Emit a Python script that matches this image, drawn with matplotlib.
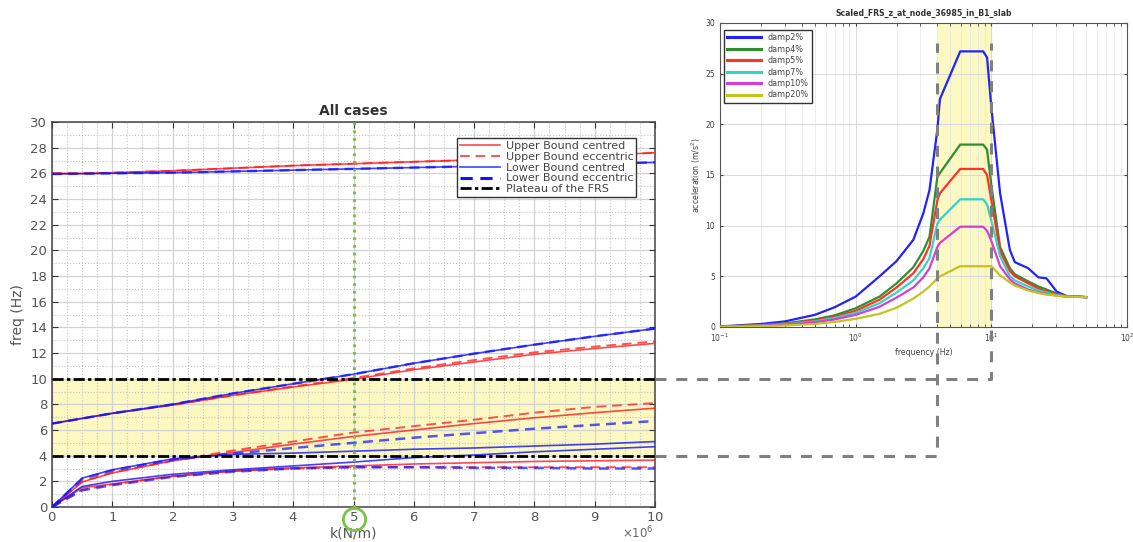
"""Stiffness sweep vs floor response spectrum plateau, two panels joined by guide lines."""
import numpy as np
import matplotlib; matplotlib.use("Agg")
import matplotlib.pyplot as plt
from matplotlib.lines import Line2D
from matplotlib.ticker import MultipleLocator, ScalarFormatter
from matplotlib.transforms import offset_copy

RED = "#ff1a1a"; BLUE = "#1212ff"; GREEN = "#7cc242"; GREY = "#808080"; YEL = "#fbf8c2"
plt.rcParams.update({"font.family": "DejaVu Sans", "figure.facecolor": "white"})

# ---- left panel: natural frequency vs support stiffness (k in N/m) ----
k = np.array([0, 0.5, 1, 2, 3, 4, 5, 6, 7, 8, 9, 10]) * 1e6
ub_c_hi = [26.0, 26.0, 26.05, 26.2, 26.4, 26.6, 26.75, 26.9, 27.05, 27.25, 27.4, 27.6]
lb_c_hi = [25.95, 25.97, 26.0, 26.05, 26.15, 26.25, 26.35, 26.45, 26.55, 26.65, 26.75, 26.85]
lb_mid = [6.5, 6.9, 7.3, 8.0, 8.85, 9.6, 10.35, 11.2, 11.95, 12.65, 13.3, 13.9]
ub_c_mid = [6.5, 6.9, 7.3, 7.95, 8.7, 9.35, 9.95, 10.7, 11.3, 11.9, 12.35, 12.75]
ub_e_mid = [6.5, 6.9, 7.3, 7.95, 8.7, 9.4, 10.05, 10.8, 11.45, 12.05, 12.5, 12.9]
ub_e_2 = [0, 2.0, 2.7, 3.6, 4.4, 5.1, 5.8, 6.3, 6.8, 7.35, 7.8, 8.1]
ub_c_2 = [0, 1.95, 2.65, 3.6, 4.25, 4.9, 5.5, 6.0, 6.5, 6.95, 7.35, 7.7]
lb_e_2 = [0, 2.2, 2.85, 3.7, 4.15, 4.6, 5.0, 5.4, 5.75, 6.1, 6.4, 6.7]
lb_c_2 = [0, 2.25, 2.9, 3.75, 4.1, 4.2, 4.35, 4.5, 4.6, 4.75, 4.9, 5.1]
lb_c_1 = [0, 1.6, 2.0, 2.55, 2.9, 3.2, 3.5, 3.85, 4.05, 4.3, 4.5, 4.7]
ub_c_1 = [0, 1.5, 1.8, 2.4, 2.8, 3.05, 3.2, 3.35, 3.45, 3.55, 3.6, 3.65]
ub_e_1 = [0, 1.35, 1.75, 2.4, 2.8, 3.0, 3.1, 3.1, 3.1, 3.1, 3.1, 3.1]
lb_e_1 = [0, 1.3, 1.7, 2.35, 2.75, 3.0, 3.1, 3.1, 3.05, 3.05, 3.0, 3.0]
PLATEAU = (4, 10)      # Hz
K_SEL = 5e6
ACC_TOP = 28           # where the guide lines stop in the FRS panel

# ---- right panel: scaled FRS ----
freq = [0.1, 0.2, 0.3, 0.5, 0.7, 1.0, 1.5, 2.0, 2.66, 3.15, 3.5, 4.0, 4.18, 5.9, 8.7,
        9.3, 10.0, 11.6, 13.7, 14.9, 18.7, 22.2, 25.5, 30.3, 35.9, 50]
damp_labels = ["damp2%", "damp4%", "damp5%", "damp7%", "damp10%", "damp20%"]
damp_colors = ["#2222ff", "#2f8f2f", "#ff3322", "#33d4c4", "#d23fd2", "#c4c41e"]
d2 = [0.05, 0.3, 0.55, 1.2, 1.95, 3.0, 5.0, 6.5, 8.6, 11.2, 13.5, 19.5, 22.5, 27.2, 27.2,
      26.6, 21.7, 13.2, 7.6, 6.4, 5.8, 4.9, 4.8, 3.5, 3.05, 2.95]
d4 = [0.03, 0.2, 0.35, 0.75, 1.15, 1.85, 3.0, 4.3, 5.9, 7.5, 8.9, 14.8, 15.2, 18.0, 18.0,
      17.5, 14.0, 7.9, 5.8, 5.2, 4.5, 4.0, 3.7, 3.3, 3.05, 2.95]
d5 = [0.03, 0.18, 0.3, 0.65, 1.0, 1.6, 2.7, 3.9, 5.3, 6.7, 8.0, 12.5, 13.2, 15.6, 15.6,
      15.0, 12.5, 7.5, 5.5, 5.0, 4.3, 3.8, 3.5, 3.2, 3.05, 2.95]
d7 = [0.02, 0.15, 0.27, 0.55, 0.9, 1.4, 2.35, 3.4, 4.6, 5.8, 6.8, 10.2, 10.6, 12.6, 12.6,
      12.1, 10.5, 7.0, 5.0, 4.6, 4.0, 3.6, 3.4, 3.15, 3.0, 2.95]
d10 = [0.02, 0.12, 0.22, 0.47, 0.75, 1.2, 2.0, 2.9, 3.9, 4.9, 5.8, 7.9, 8.3, 9.9, 9.9,
       9.5, 8.5, 6.0, 4.7, 4.3, 3.7, 3.4, 3.25, 3.1, 3.0, 2.95]
d20 = [0.01, 0.08, 0.15, 0.3, 0.5, 0.8, 1.3, 1.9, 2.8, 3.5, 4.0, 4.8, 5.0, 6.0, 6.0,
       6.0, 6.0, 5.1, 4.4, 4.1, 3.6, 3.35, 3.2, 3.1, 3.0, 2.95]

W, H = 1133, 542
fig = plt.figure(figsize=(W / 100, H / 100), dpi=100)
ax = fig.add_axes([52 / W, 1 - 507 / H, 603 / W, 385 / H])
axr = fig.add_axes([720 / W, 1 - 327 / H, 407 / W, 304 / H])

# left panel
ax.axhspan(*PLATEAU, color=YEL, zorder=0)
ax.set_xlim(0, 10e6); ax.set_ylim(0, 30)
ax.xaxis.set_major_locator(MultipleLocator(1e6)); ax.xaxis.set_minor_locator(MultipleLocator(0.25e6))
ax.yaxis.set_major_locator(MultipleLocator(2)); ax.yaxis.set_minor_locator(MultipleLocator(1))
fmt = ScalarFormatter(useMathText=True); fmt.set_powerlimits((6, 6)); ax.xaxis.set_major_formatter(fmt)
ax.grid(which="major", color="#d2d2d2", lw=0.9, zorder=1)
ax.grid(which="minor", color="#c4c4c4", ls=":", lw=0.8, zorder=1)
ax.set_axisbelow(True)

sol = dict(lw=1.2, alpha=0.8, zorder=3)
das = dict(ls=(0, (5, 3)), lw=1.4, alpha=0.75, zorder=3)
for y in (ub_c_hi, ub_c_mid, ub_c_2, ub_c_1):
    ax.plot(k, y, color=RED, **sol)
for y in (ub_c_hi, ub_e_mid, ub_e_2, ub_e_1):
    ax.plot(k, y, color=RED, **das)
for y in (lb_c_hi, lb_mid, lb_c_2, lb_c_1):
    ax.plot(k, y, color=BLUE, **sol)
for y in (lb_c_hi, lb_mid, lb_e_2, lb_e_1):
    ax.plot(k, y, color=BLUE, ls=(0, (4, 2.5)), lw=1.8, alpha=0.7, zorder=3)
for lev in PLATEAU:
    ax.axhline(lev, color="black", lw=2, dashes=(4, 1.2, 1.2, 1.2), zorder=4)
ax.axvline(K_SEL, color=GREEN, lw=2.2, dashes=(0.9, 1.6), zorder=5)

handles = [Line2D([], [], color=RED, lw=1.2, alpha=0.8),
           Line2D([], [], color=RED, lw=1.4, alpha=0.75, ls=(0, (5, 3))),
           Line2D([], [], color=BLUE, lw=1.2, alpha=0.8),
           Line2D([], [], color=BLUE, lw=2.2, ls=(0, (4, 2.5))),
           Line2D([], [], color="black", lw=2, dashes=(4, 1.2, 1.2, 1.2))]
labels = ["Upper Bound centred", "Upper Bound eccentric", "Lower Bound centred",
          "Lower Bound eccentric", "Plateau of the FRS"]
leg = ax.legend(handles, labels, loc="upper right", bbox_to_anchor=(0.978, 0.973), fontsize=8,
                handlelength=3.6, labelspacing=0.08, borderpad=0.25, handletextpad=0.5,
                fancybox=False, edgecolor="#333333", framealpha=1)
for t in leg.get_texts(): t.set_color("#444444")
leg.get_frame().set_linewidth(1.0)

ax.tick_params(which="both", direction="in", top=True, right=True, colors="#333333",
               labelcolor="#555555", labelsize=9.5)
ax.tick_params(which="major", length=4); ax.tick_params(which="minor", length=0)
ax.tick_params(axis="x", pad=3)
ax.xaxis.get_offset_text().set_visible(False)
ax.annotate(r"$\times10^{6}$", xy=(1, 0), xycoords="axes fraction", xytext=(-1, -13),
            textcoords="offset points", ha="right", va="top", fontsize=8.5, color="#666666")
for s in ax.spines.values(): s.set_color("#444444"); s.set_linewidth(1.1)
ax.set_title("All cases", fontsize=10, fontweight="bold", color="#333333", pad=5)
ax.set_xlabel("k(N/m)", fontsize=10, color="#555555", labelpad=2)
ax.set_ylabel("freq (Hz)", fontsize=10, color="#555555", labelpad=4)
ax.plot([K_SEL], [0], transform=offset_copy(ax.get_xaxis_transform(), fig=fig, y=-12, units="dots"),
        marker="o", ms=16, mfc="none", mec=GREEN, mew=2, clip_on=False, zorder=6)

# right panel
axr.set_xscale("log"); axr.set_xlim(0.1, 100); axr.set_ylim(0, 30)
axr.axvspan(*PLATEAU, color=YEL, zorder=0)
axr.grid(which="major", color="#d9d9d9", lw=0.7)
axr.grid(which="minor", color="#e4e4e4", lw=0.5)
axr.set_axisbelow(True)
for lab, col, y in zip(damp_labels, damp_colors, [d2, d4, d5, d7, d10, d20]):
    axr.plot(freq, y, color=col, lw=1.6, label=lab, zorder=3)
lg = axr.legend(loc="upper left", fontsize=5.8, handlelength=4.2, labelspacing=0.3,
                borderpad=0.4, fancybox=False, edgecolor="#333333", framealpha=1,
                bbox_to_anchor=(0.0, 0.99))
for t in lg.get_texts(): t.set_color("#444444")
for ln in lg.get_lines(): ln.set_linewidth(2.2)
axr.set_yticks(range(0, 31, 5))
axr.tick_params(which="both", direction="in", top=True, right=True, labelsize=5.5,
                colors="#444444", length=2.5)
for s in axr.spines.values(): s.set_color("#555555"); s.set_linewidth(0.8)
axr.set_title("Scaled_FRS_z_at_node_36985_in_B1_slab", fontsize=5.6, fontweight="bold",
              color="#333333", pad=5)
axr.set_xlabel("frequency (Hz)", fontsize=5.6, color="#444444", labelpad=3)
axr.set_ylabel("acceleration (m/s$^2$)", fontsize=5.6, color="#444444", labelpad=2)

# guide lines from the plateau band to the FRS frequency band
to_fig = fig.transFigure.inverted()
for lev in PLATEAU:
    x0, y0 = to_fig.transform(ax.transData.transform((k[-1], lev)))
    x1, y1 = to_fig.transform(axr.transData.transform((lev, ACC_TOP)))
    fig.add_artist(Line2D([x0, x1, x1], [y0, y0, y1], transform=fig.transFigure, color=GREY,
                          lw=2.2, dashes=(3.6, 3.2), zorder=10))

fig.savefig("out.png", dpi=100, facecolor="white")
